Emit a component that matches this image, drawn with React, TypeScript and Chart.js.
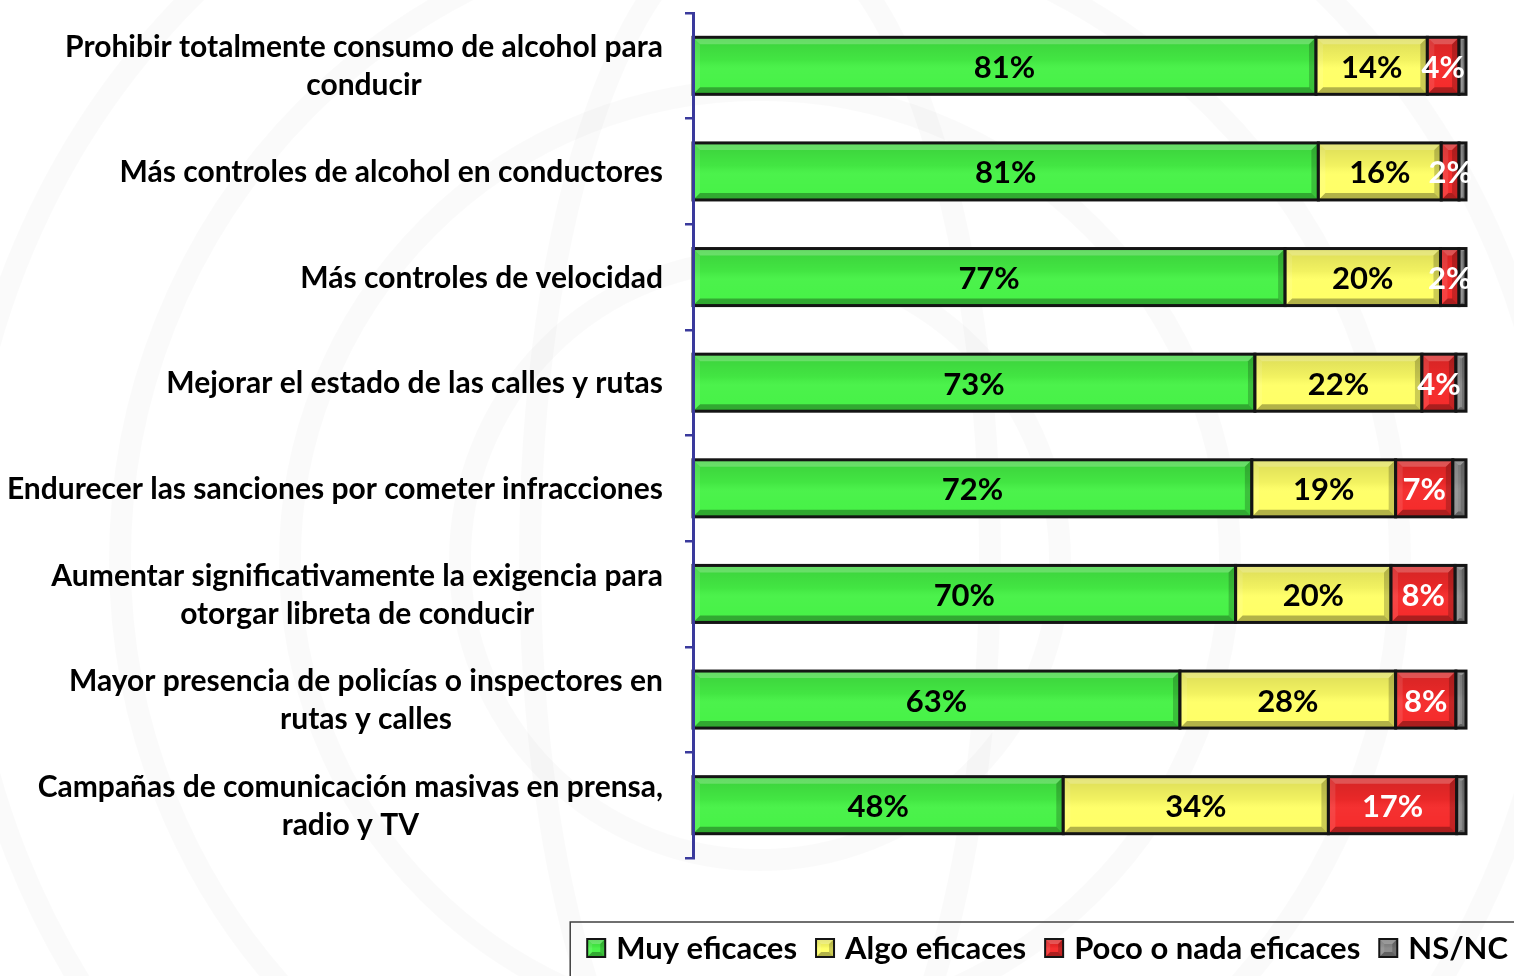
import React, { useEffect, useRef } from "react";
import { Chart, registerables } from "chart.js";

Chart.register(...registerables);

// ---------- data ----------
const categories: string[][] = [
  ["Prohibir totalmente consumo de alcohol para", "conducir"],
  ["Más controles de alcohol en conductores"],
  ["Más controles de velocidad"],
  ["Mejorar el estado de las calles y rutas"],
  ["Endurecer las sanciones por cometer infracciones"],
  ["Aumentar significativamente la exigencia para", "otorgar libreta de conducir"],
  ["Mayor presencia de policías o inspectores en", "rutas y calles"],
  ["Campañas de comunicación masivas en prensa,", "radio y TV"],
];
const muyEficaces = [80.6, 80.9, 76.6, 72.7, 72.3, 70.2, 63.0, 47.9];
const algoEficaces = [14.4, 15.9, 20.1, 21.6, 18.6, 20.1, 27.9, 34.3];
const pocoONadaEficaces = [4.1, 2.3, 2.4, 4.4, 7.4, 8.3, 7.8, 16.6];
const nsnc = [0.9, 0.9, 0.9, 1.3, 1.7, 1.4, 1.3, 1.2];
const seriesNames = ["Muy eficaces", "Algo eficaces", "Poco o nada eficaces", "NS/NC"];
const seriesColors = ["#46F246", "#FFFF66", "#F52A2A", "#8A8A8A"];
const labelColors: (string | null)[] = ["#000000", "#000000", "#FFFFFF", null];

const FONT = "Lato, 'Open Sans', sans-serif";
const AXIS_COLOR = "#3A3A9C";

function poly(ctx: CanvasRenderingContext2D, pts: number[][], fill: string) {
  ctx.beginPath();
  ctx.moveTo(pts[0][0], pts[0][1]);
  for (let i = 1; i < pts.length; i++) ctx.lineTo(pts[i][0], pts[i][1]);
  ctx.closePath();
  ctx.fillStyle = fill;
  ctx.fill();
}

function bevelRect(
  ctx: CanvasRenderingContext2D,
  l: number,
  t: number,
  w: number,
  h: number,
  color: string,
  bevel: number,
  lineWidth: number
) {
  const r = l + w;
  const bot = t + h;
  const b = Math.min(bevel, w / 2.5, h / 2.5);
  ctx.save();
  ctx.fillStyle = color;
  ctx.fillRect(l, t, w, h);
  const g = ctx.createLinearGradient(0, t, 0, bot);
  g.addColorStop(0, "rgba(0,0,0,0.14)");
  g.addColorStop(0.4, "rgba(0,0,0,0.05)");
  g.addColorStop(0.55, "rgba(255,255,255,0.03)");
  g.addColorStop(1, "rgba(255,255,255,0)");
  ctx.fillStyle = g;
  ctx.fillRect(l, t, w, h);
  poly(ctx, [[l, t], [r, t], [r - b, t + b], [l + b, t + b]], "rgba(255,255,255,0.22)");
  poly(ctx, [[l, bot], [r, bot], [r - b, bot - b], [l + b, bot - b]], "rgba(0,0,0,0.3)");
  poly(ctx, [[l, t], [l + b, t + b], [l + b, bot - b], [l, bot]], "rgba(255,255,255,0.1)");
  poly(ctx, [[r, t], [r - b, t + b], [r - b, bot - b], [r, bot]], "rgba(0,0,0,0.2)");
  ctx.lineWidth = lineWidth;
  ctx.strokeStyle = "#141414";
  ctx.strokeRect(l, t, w, h);
  ctx.restore();
}

const backgroundPlugin = {
  id: "bgWatermark",
  beforeDraw(chart: any) {
    const ctx: CanvasRenderingContext2D = chart.ctx;
    ctx.save();
    ctx.fillStyle = "#FFFFFF";
    ctx.fillRect(0, 0, chart.width, chart.height);
    ctx.strokeStyle = "rgba(0,0,0,0.018)";
    ctx.lineWidth = 22;
    const cx = 760;
    const cy = 560;
    [300, 470, 640, 800].forEach((rad) => {
      ctx.beginPath();
      ctx.arc(cx, cy, rad, 0, Math.PI * 2);
      ctx.stroke();
    });
    ctx.beginPath();
    ctx.ellipse(cx, cy, 230, 640, 0, 0, Math.PI * 2);
    ctx.stroke();
    ctx.restore();
  },
};

const barStylePlugin = {
  id: "barStyle",
  afterDatasetsDraw(chart: any) {
    const ctx: CanvasRenderingContext2D = chart.ctx;
    chart.data.datasets.forEach((ds: any, di: number) => {
      const meta = chart.getDatasetMeta(di);
      meta.data.forEach((el: any) => {
        const p = el.getProps(["x", "y", "base", "height"], true);
        const l = Math.min(p.x, p.base);
        const r = Math.max(p.x, p.base);
        const t = p.y - p.height / 2;
        bevelRect(ctx, l, t, r - l, p.height, seriesColors[di], 7, 3);
      });
    });
    // data labels
    ctx.save();
    ctx.font = `bold 31px ${FONT}`;
    ctx.textAlign = "center";
    ctx.textBaseline = "middle";
    chart.data.datasets.forEach((ds: any, di: number) => {
      const col = labelColors[di];
      if (!col) return;
      const meta = chart.getDatasetMeta(di);
      meta.data.forEach((el: any, i: number) => {
        const p = el.getProps(["x", "y", "base"], true);
        const v = ds.data[i];
        ctx.fillStyle = col;
        ctx.fillText(`${Math.round(v)}%`, (p.x + p.base) / 2, p.y + 2);
      });
    });
    ctx.restore();
  },
};

const categoryLabelPlugin = {
  id: "categoryLabels",
  afterDraw(chart: any) {
    const ctx: CanvasRenderingContext2D = chart.ctx;
    const yScale = chart.scales.y;
    const right = chart.chartArea.left - 30;
    const lineH = 38;
    ctx.save();
    ctx.font = `bold 30px ${FONT}`;
    ctx.fillStyle = "#000000";
    ctx.textAlign = "center";
    ctx.textBaseline = "middle";
    categories.forEach((lines, i) => {
      const cy = yScale.getPixelForValue(i);
      const maxW = Math.max(...lines.map((s) => ctx.measureText(s).width));
      const cx = right - maxW / 2;
      const y0 = cy - ((lines.length - 1) * lineH) / 2;
      lines.forEach((s, k) => ctx.fillText(s, cx, y0 + k * lineH + 1));
    });
    ctx.restore();
  },
};

const legendPlugin = {
  id: "boxedLegend",
  afterDraw(chart: any) {
    const ctx: CanvasRenderingContext2D = chart.ctx;
    ctx.save();
    ctx.font = `bold 31px ${FONT}`;
    ctx.textBaseline = "middle";
    ctx.textAlign = "left";
    const marker = 18;
    const gapText = 11;
    const gapItem = 19;
    const widths = seriesNames.map((s) => ctx.measureText(s).width);
    const total =
      widths.reduce((a, b) => a + b, 0) + seriesNames.length * (marker + gapText) + (seriesNames.length - 1) * gapItem;
    const endX = 1508;
    let x = endX - total;
    const cy = 948;
    ctx.strokeStyle = "#404040";
    ctx.lineWidth = 1.5;
    ctx.strokeRect(x - 17, 922, chart.width, 80);
    seriesNames.forEach((s, i) => {
      bevelRect(ctx, x, cy - marker / 2, marker, marker, seriesColors[i], 5, 2);
      ctx.fillStyle = "#000000";
      ctx.fillText(s, x + marker + gapText, cy + 1);
      x += marker + gapText + widths[i] + gapItem;
    });
    ctx.restore();
  },
};

export default function App() {
  const canvasRef = useRef<HTMLCanvasElement | null>(null);

  useEffect(() => {
    if (!canvasRef.current) return;
    const datasets = [muyEficaces, algoEficaces, pocoONadaEficaces, nsnc].map((d, i) => ({
      label: seriesNames[i],
      data: d,
      backgroundColor: seriesColors[i],
      borderWidth: 0,
      categoryPercentage: 1,
      barPercentage: 0.54,
    }));
    const chart = new Chart(canvasRef.current, {
      type: "bar",
      data: {
        labels: categories.map((c) => c.join(" ")),
        datasets,
      },
      options: {
        indexAxis: "y",
        animation: false,
        responsive: false,
        layout: { padding: { left: 685, right: 48, top: 13, bottom: 118 } },
        plugins: {
          legend: { display: false },
          tooltip: { enabled: false },
        },
        scales: {
          x: {
            stacked: true,
            min: 0,
            max: 100,
            display: false,
          },
          y: {
            stacked: true,
            ticks: { display: false },
            grid: {
              display: true,
              drawOnChartArea: false,
              drawTicks: true,
              tickLength: 8,
              color: AXIS_COLOR,
              lineWidth: 2.5,
              offset: true,
              z: 1,
            },
            border: { display: true, color: AXIS_COLOR, width: 3, z: 2 },
          },
        },
      },
      plugins: [backgroundPlugin, barStylePlugin, categoryLabelPlugin, legendPlugin],
    });
    return () => chart.destroy();
  }, []);

  return (
    <div style={{ position: "absolute", left: 0, top: 0, width: 1514, height: 976, overflow: "hidden" }}>
      <canvas ref={canvasRef} width={1514} height={976} style={{ display: "block" }} />
    </div>
  );
}
